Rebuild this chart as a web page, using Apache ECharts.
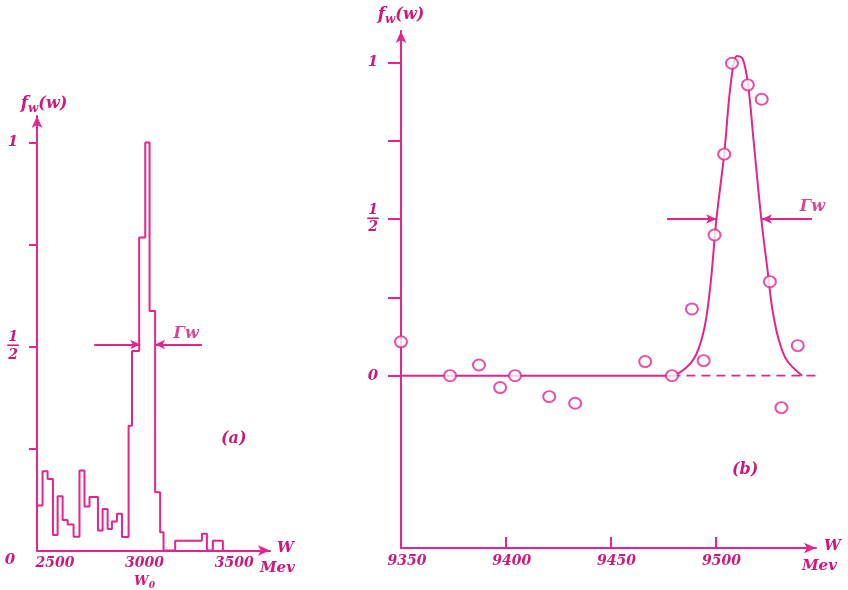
<!DOCTYPE html>
<html><head><meta charset="utf-8">
<script src="https://cdn.jsdelivr.net/npm/echarts@6/dist/echarts.min.js"></script>
<style>html,body{margin:0;padding:0;background:#fff}#c{width:848px;height:590px}</style>
</head><body><div id="c"></div>
<script>
// ---- Panel (a): histogram ----
const histEdges = [2400,2431,2459,2489,2515,2543,2571,2604,2637,2665,2693,2740,2766,2794,2818,2846,2874,2911,2930,2970,3004,3028,3059,3087,3106,3171,3320,3348,3381,3437];
const histHeights = [0.110,0.194,0.175,0.038,0.133,0.075,0.064,0.034,0.196,0.108,0.131,0.049,0.102,0.053,0.071,0.090,0.033,0.306,0.489,0.767,1.0,0.587,0.143,0.045,0,0.024,0.041,0,0.024];
const aXLabels = [2500,3000,3500];
const aYTicks = [0.25,0.5,0.75,1];
const aYLabels = [0,0.5,1];
const aArrowLeft = [[2719,0.505],[2976,0.505]];
const aArrowRight = [[3320,0.505],[3059,0.505]];
const aGammaPos = [3232,0.53];

// ---- Panel (b): measured points and fitted curve ----
const ptsW = [9350,9373.4,9387.2,9397.3,9404.4,9420.7,9433.1,9466.5,9479.3,9488.8,9494.4,9499.6,9504.2,9507.9,9515.5,9522.1,9526.0,9531.5,9539.3];
const ptsF = [0.108,0,0.034,-0.038,0,-0.067,-0.088,0.045,0,0.213,0.048,0.449,0.707,0.997,0.928,0.882,0.300,-0.102,0.096];
const curveW = [9350,9479,9486,9491,9495,9497.8,9500.5,9504.2,9507.3,9510.3,9513,9515.6,9518.2,9521.9,9525,9527,9530,9534,9541.4];
const curveF = [0,0,0.025,0.07,0.16,0.3,0.5,0.707,0.93,1.02,1.012,0.928,0.752,0.5,0.33,0.22,0.12,0.05,0];
const dashW = [9479,9548];
const bXTicks = [9400,9450,9500];
const bXLabels = [9350,9400,9450,9500];
const bYTicks = [0,0.25,0.5,0.75,1];
const bYLabels = [0,0.5,1];
const bArrowLeft = [[9476.9,0.5],[9500.4,0.5]];
const bArrowRight = [[9546.1,0.5],[9522.2,0.5]];
const bGammaPos = [9546.3,0.538];

const LINE = '#e3258d', TEXT = '#cc1a7a', FONT = 'DejaVu Serif';
const tBase = {color: TEXT, fontFamily: FONT, fontWeight: 'bold', fontStyle: 'italic'};

function stepPath(edges, heights){
  const pts = [[edges[0],0]];
  heights.forEach((h,i)=>{ pts.push([edges[i],h]); pts.push([edges[i+1],h]); });
  pts.push([edges[edges.length-1],0]);
  return pts;
}
const zip = (a,b)=>a.map((v,i)=>[v,b[i]]);

const fracRich = {
  n: Object.assign({}, tBase, {fontSize: 14, lineHeight: 13, align: 'center'}),
  l: Object.assign({}, tBase, {fontSize: 13, lineHeight: 4, fontStyle: 'normal', align: 'center'}),
  d: Object.assign({}, tBase, {fontSize: 14, lineHeight: 14, align: 'center'}),
  o: Object.assign({}, tBase, {fontSize: 15}),
  z: Object.assign({}, tBase, {fontSize: 15, padding: [20,6,0,0]}),
  z2: Object.assign({}, tBase, {fontSize: 15})
};
function yFmt(zeroStyle){
  return v => v === 0 ? '{'+zeroStyle+'|0}' : (Math.abs(v-0.5) < 1e-9 ? '{n|1}\n{l|—}\n{d|2}' : '{o|1}');
}
const fwName = '{f|f}{s|w}{p|(w)}';
const fwRich = {
  f: Object.assign({}, tBase, {fontSize: 17}),
  s: Object.assign({}, tBase, {fontSize: 12, padding: [10,0,0,0]}),
  p: Object.assign({}, tBase, {fontSize: 16})
};
const arrowLine = (pairs) => ({
  silent: true, symbol: ['none','arrow'], symbolSize: [7,10], label: {show: false},
  lineStyle: {color: LINE, width: 1.8, type: 'solid'},
  data: pairs.map(p => [{coord: p[0]}, {coord: p[1]}])
});
const axisLineStyle = {color: LINE, width: 2};
const gammaLabel = {show: true, position: 'inside', formatter: 'Γw', color: TEXT, fontFamily: FONT, fontWeight: 'bold', fontStyle: 'italic', fontSize: 16};

const option = {
  animation: false,
  grid: [
    {left: 37, top: 116, width: 233, height: 435},
    {left: 401, top: 31, width: 415, height: 517}
  ],
  xAxis: [
    {gridIndex: 0, type: 'value', min: 2400, max: 3700,
     axisLine: {onZero: false, symbol: ['none','arrow'], symbolSize: [8,12], lineStyle: axisLineStyle},
     axisTick: {show: false}, splitLine: {show: false},
     axisLabel: {customValues: aXLabels, margin: 4,
       formatter: v => v === 3000 ? '{a|3000}\n{w|W}{s|0}' : '{a|'+v+'}',
       rich: {a: Object.assign({}, tBase, {fontSize: 14, lineHeight: 18, align: 'center'}),
              w: Object.assign({}, tBase, {fontSize: 13, lineHeight: 18}),
              s: Object.assign({}, tBase, {fontSize: 9, padding: [8,0,0,0]})}},
     name: '{w|W}\n{m|Mev}', nameLocation: 'end', nameGap: -10,
     nameTextStyle: {align: 'left', verticalAlign: 'middle', padding: [18,0,0,0],
       rich: {w: Object.assign({}, tBase, {fontSize: 15, lineHeight: 18, padding: [0,0,0,17]}),
              m: Object.assign({}, tBase, {fontSize: 15, lineHeight: 22})}}},
    {gridIndex: 1, type: 'value', min: 9350, max: 9548, interval: 50,
     axisLine: {onZero: false, symbol: ['none','arrow'], symbolSize: [8,12], lineStyle: axisLineStyle},
     axisTick: {show: true, inside: true, length: 11, customValues: bXTicks, lineStyle: {color: LINE, width: 2}},
     splitLine: {show: false},
     axisLabel: {customValues: bXLabels, margin: 6, padding: [0,0,0,12], formatter: v => String(v),
       color: TEXT, fontFamily: FONT, fontWeight: 'bold', fontStyle: 'italic', fontSize: 14},
     name: '{w|W}\n{m|Mev}', nameLocation: 'end', nameGap: -14,
     nameTextStyle: {align: 'left', verticalAlign: 'middle', padding: [18,0,0,0],
       rich: {w: Object.assign({}, tBase, {fontSize: 15, lineHeight: 18, padding: [0,0,0,22]}),
              m: Object.assign({}, tBase, {fontSize: 15, lineHeight: 22})}}}
  ],
  yAxis: [
    {gridIndex: 0, type: 'value', min: 0, max: 1.065,
     axisLine: {onZero: false, symbol: ['none','arrow'], symbolSize: [8,12], lineStyle: axisLineStyle},
     axisTick: {show: true, length: 8, customValues: aYTicks, lineStyle: {color: LINE, width: 2}},
     splitLine: {show: false},
     axisLabel: {customValues: aYLabels, margin: 24, align: 'center', formatter: yFmt('z'), rich: fracRich},
     name: fwName, nameLocation: 'end', nameGap: 1,
     nameTextStyle: {align: 'center', padding: [0,0,0,14], rich: fwRich}},
    {gridIndex: 1, type: 'value', min: -0.55, max: 1.10,
     axisLine: {onZero: false, symbol: ['none','arrow'], symbolSize: [8,12], lineStyle: axisLineStyle},
     axisTick: {show: true, length: 13, customValues: bYTicks, lineStyle: {color: LINE, width: 2}},
     splitLine: {show: false},
     axisLabel: {customValues: bYLabels, margin: 28, align: 'center', formatter: yFmt('z2'), rich: fracRich},
     name: fwName, nameLocation: 'end', nameGap: 5,
     nameTextStyle: {align: 'center', rich: fwRich}}
  ],
  series: [
    {type: 'line', xAxisIndex: 0, yAxisIndex: 0, data: stepPath(histEdges, histHeights),
     symbol: 'none', lineStyle: {color: LINE, width: 2}, clip: false, silent: true,
     markLine: arrowLine([aArrowLeft, aArrowRight])},
    {type: 'scatter', xAxisIndex: 0, yAxisIndex: 0, data: [aGammaPos], symbolSize: 1,
     itemStyle: {color: 'rgba(0,0,0,0)'}, silent: true, label: gammaLabel},
    {type: 'line', xAxisIndex: 1, yAxisIndex: 1, data: zip(curveW, curveF), smooth: 0.35,
     symbol: 'none', lineStyle: {color: LINE, width: 2}, clip: false, silent: true,
     markLine: arrowLine([bArrowLeft, bArrowRight])},
    {type: 'line', xAxisIndex: 1, yAxisIndex: 1, data: dashW.map(w => [w, 0]),
     symbol: 'none', lineStyle: {color: LINE, width: 1.6, type: [9,6]}, silent: true},
    {type: 'scatter', xAxisIndex: 1, yAxisIndex: 1, data: zip(ptsW, ptsF), symbol: 'circle', symbolSize: [12,11],
     itemStyle: {color: '#fff', borderColor: LINE, borderWidth: 2}, clip: false, silent: true, z: 5},
    {type: 'scatter', xAxisIndex: 1, yAxisIndex: 1, data: [bGammaPos], symbolSize: 1,
     itemStyle: {color: 'rgba(0,0,0,0)'}, silent: true, label: gammaLabel}
  ],
  graphic: [
    {type: 'text', left: 221, top: 431, style: {text: '(a)', font: 'italic bold 16px "DejaVu Serif"', fill: TEXT}},
    {type: 'text', left: 732, top: 462, style: {text: '(b)', font: 'italic bold 16px "DejaVu Serif"', fill: TEXT}}
  ]
};
const chart = echarts.init(document.getElementById('c'));
chart.setOption(option);
</script>
</body></html>
